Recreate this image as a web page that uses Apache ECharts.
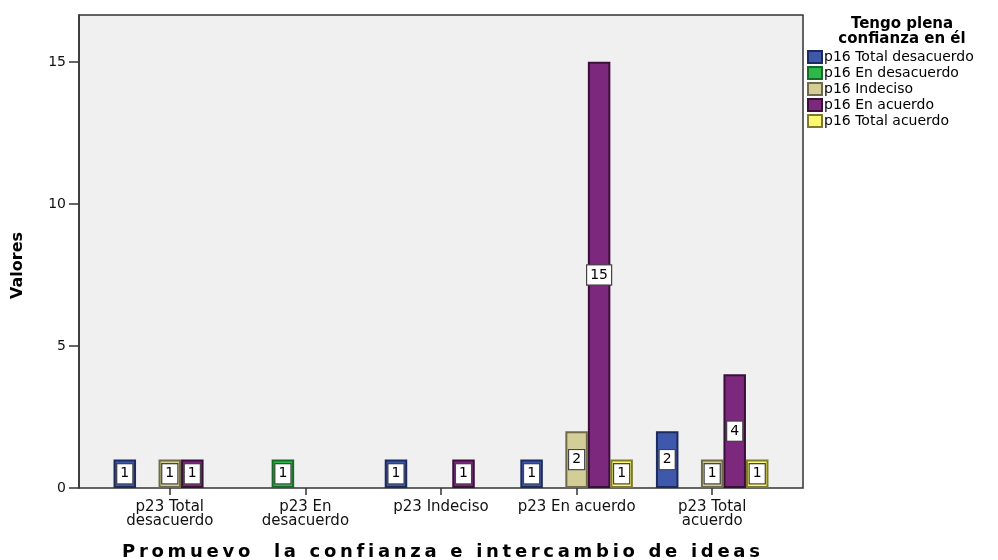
<!DOCTYPE html>
<html>
<head>
<meta charset="utf-8">
<title>Promuevo la confianza e intercambio de ideas</title>
<script src="https://cdn.jsdelivr.net/npm/echarts@6/dist/echarts.min.js"></script>
<style>
  html, body { margin: 0; padding: 0; background: #fff; }
  #chart { width: 998px; height: 560px; }
</style>
</head>
<body>
<div id="chart"></div>
<script>
var categories = ['p23 Total\ndesacuerdo', 'p23 En\ndesacuerdo', 'p23 Indeciso', 'p23 En acuerdo', 'p23 Total\nacuerdo']
var seriesNames = ['p16 Total desacuerdo', 'p16 En desacuerdo', 'p16 Indeciso', 'p16 En acuerdo', 'p16 Total acuerdo']
// null = no bar in that group
var totalDesacuerdo = [1, null, 1, 1, 2]
var enDesacuerdo = [null, 1, null, null, null]
var indeciso = [1, null, null, 2, 1]
var enAcuerdo = [1, null, 1, 15, 4]
var totalAcuerdo = [null, null, null, 1, 1]
var yTicks = [0, 5, 10, 15]
var xTitle = 'Promuevo  la confianza e intercambio de ideas'
var yTitle = 'Valores'
var legendTitle = 'Tengo plena\nconfianza en él'

var fills = ['#3E58AC', '#2EB848', '#D3CE97', '#7C287D', '#FBF873']
var borders = ['#1D2A5E', '#176B28', '#6F6B48', '#3A103B', '#7E7C2C']
var values = [totalDesacuerdo, enDesacuerdo, indeciso, enAcuerdo, totalAcuerdo]

var font = 'DejaVu Sans, Verdana, sans-serif'

// spaced-out letters for the wide axis title
function spaced (text) {
  return text.split('').map(function (c) { return '{c|' + c + '}' }).join('')
}

var series = values.map(function (data, i) {
  return {
    name: seriesNames[i],
    type: 'bar',
    data: data,
    barGap: 0,
    barCategoryGap: '17%',
    itemStyle: { color: fills[i], borderColor: borders[i], borderWidth: 2 },
    label: {
      show: true,
      position: 'inside',
      color: '#000',
      fontFamily: font,
      fontSize: 14,
      backgroundColor: '#fff',
      borderColor: '#444',
      borderWidth: 1.2,
      padding: [3, 3, 2, 3]
    }
  }
})

var chart = echarts.init(document.getElementById('chart'))
chart.setOption({
  animation: false,
  backgroundColor: '#fff',
  textStyle: { fontFamily: font },
  grid: { left: 102, right: 218, top: 15, bottom: 72, outerBoundsMode: 'none' },
  graphic: [
    {
      type: 'rect',
      z: -10,
      silent: true,
      shape: { x: 79, y: 15, width: 724, height: 473 },
      style: { fill: '#F0F0F0', stroke: '#333', lineWidth: 1.5 }
    },
    {
      type: 'text',
      x: 902,
      y: 17,
      silent: true,
      style: {
        text: legendTitle,
        textAlign: 'center',
        font: 'bold 15px ' + font,
        lineHeight: 15,
        fill: '#000'
      }
    }
  ],
  legend: {
    orient: 'vertical',
    left: 807,
    top: 50,
    padding: 0,
    icon: 'rect',
    itemWidth: 14,
    itemHeight: 12,
    itemGap: 2,
    selectedMode: false,
    textStyle: { fontFamily: font, fontSize: 14, color: '#000', padding: [0, 0, 0, -3] },
    data: seriesNames
  },
  xAxis: {
    type: 'category',
    data: categories,
    name: spaced(xTitle),
    nameLocation: 'middle',
    nameGap: 55,
    nameTextStyle: {
      rich: {
        c: { fontFamily: font, fontSize: 18, fontWeight: 'bold', color: '#000', padding: [0, 1.85] }
      }
    },
    axisLine: { show: false },
    axisTick: { show: true, alignWithLabel: true, length: 7, lineStyle: { color: '#333', width: 1.5 } },
    axisLabel: { color: '#111', fontSize: 15, lineHeight: 14, margin: 12, interval: 0 }
  },
  yAxis: {
    type: 'value',
    min: 0,
    max: 16.65,
    interval: 5,
    offset: 23,
    name: yTitle,
    nameLocation: 'middle',
    nameGap: 53,
    nameTextStyle: { fontFamily: font, fontSize: 16, fontWeight: 'bold', color: '#000', padding: [0, 28, 0, 0] },
    splitLine: { show: false },
    axisLine: { show: true, lineStyle: { color: '#333', width: 1.5 } },
    axisTick: { show: true, length: 10, customValues: yTicks, lineStyle: { color: '#333', width: 1.5 } },
    axisLabel: { color: '#111', fontSize: 14, margin: 13, customValues: yTicks }
  },
  series: series
})
</script>
</body>
</html>
